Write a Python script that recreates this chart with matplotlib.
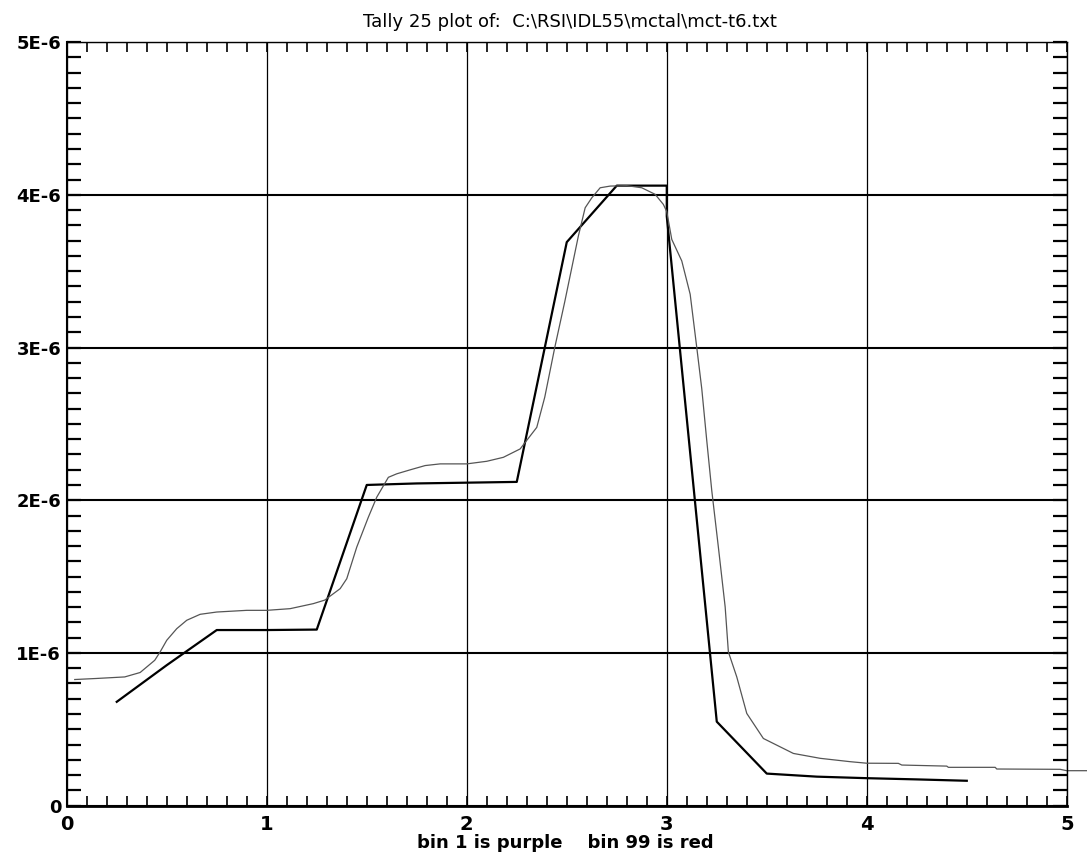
import matplotlib.pyplot as plt
from matplotlib.ticker import MultipleLocator, FixedLocator, FixedFormatter

# tally 25, bin 1 (heavy line)
x_bin1 = [0.25, 0.5, 0.75, 1.0, 1.25, 1.5, 1.75, 2.0, 2.25, 2.5, 2.75,
          3.0, 3.0, 3.25, 3.5, 3.75, 4.0, 4.25, 4.5]
y_bin1 = [0.68e-6, 0.92e-6, 1.15e-6, 1.15e-6, 1.153e-6, 2.10e-6, 2.11e-6,
          2.115e-6, 2.12e-6, 3.69e-6, 4.06e-6, 4.06e-6, 3.86e-6, 0.55e-6,
          0.21e-6, 0.19e-6, 0.18e-6, 0.172e-6, 0.163e-6]

# tally 25, bin 99 (light line)
x_bin99 = [0.04, 0.15, 0.29, 0.367, 0.44, 0.467, 0.5, 0.55, 0.6, 0.667,
           0.75, 0.9, 1.0, 1.117, 1.233, 1.29, 1.367, 1.4, 1.45, 1.508,
           1.55, 1.608, 1.65, 1.717, 1.792, 1.867, 2.0, 2.1, 2.183, 2.267,
           2.35, 2.39, 2.44, 2.49, 2.558, 2.592, 2.625, 2.667, 2.717, 2.8,
           2.875, 2.942, 2.983, 3.0, 3.025, 3.075, 3.117, 3.15, 3.175, 3.2,
           3.225, 3.258, 3.292, 3.308, 3.35, 3.4, 3.483, 3.633, 3.767, 3.917,
           4.0, 4.158, 4.175, 4.4, 4.408, 4.642, 4.65, 4.967, 5.0, 5.1]
y_bin99 = [0.826, 0.833, 0.843, 0.872, 0.952, 1.007, 1.083, 1.159, 1.214,
           1.253, 1.268, 1.279, 1.279, 1.29, 1.323, 1.346, 1.421, 1.486,
           1.693, 1.889, 2.02, 2.15, 2.173, 2.199, 2.227, 2.238, 2.238,
           2.255, 2.281, 2.336, 2.477, 2.675, 3.0, 3.3, 3.73, 3.915, 3.98,
           4.046, 4.057, 4.06, 4.046, 4.003, 3.937, 3.89, 3.708, 3.567,
           3.349, 3.0, 2.73, 2.39, 2.063, 1.693, 1.301, 1.007, 0.843, 0.604,
           0.44, 0.342, 0.31, 0.288, 0.278, 0.277, 0.266, 0.259, 0.251,
           0.251, 0.24, 0.238, 0.229, 0.229]
y_bin99 = [v * 1e-6 for v in y_bin99]

xticks = [0, 1, 2, 3, 4, 5]
xtick_labels = ['0', '1', '2', '3', '4', '5']
yticks = [0, 1e-6, 2e-6, 3e-6, 4e-6, 5e-6]
ytick_labels = ['0', '1E-6', '2E-6', '3E-6', '4E-6', '5E-6']

plt.rcParams['font.family'] = ['Liberation Sans Narrow', 'DejaVu Sans']

fig = plt.figure(figsize=(10.87, 8.57), dpi=100)
ax = fig.add_axes([0.0614, 0.0599, 0.92, 0.891])

ax.plot(x_bin1, y_bin1, color='black', lw=1.6)
ax.plot(x_bin99, y_bin99, color='#555555', lw=0.9, clip_on=False)

ax.set_xlim(0, 5)
ax.set_ylim(0, 5e-6)

ax.xaxis.set_major_locator(FixedLocator(xticks))
ax.xaxis.set_major_formatter(FixedFormatter(xtick_labels))
ax.yaxis.set_major_locator(FixedLocator(yticks))
ax.yaxis.set_major_formatter(FixedFormatter(ytick_labels))
ax.xaxis.set_minor_locator(MultipleLocator(0.1))
ax.yaxis.set_minor_locator(MultipleLocator(1e-7))

ax.xaxis.grid(True, which='major', color='black', lw=0.9)
ax.yaxis.grid(True, which='major', color='black', lw=1.5)

ax.tick_params(axis='x', which='both', direction='in', top=True,
               length=7, width=1.2, pad=7)
ax.tick_params(axis='y', which='both', direction='in', right=True,
               length=10, width=1.6, pad=4)
for lab in ax.get_xticklabels():
    lab.set_fontsize(14)
    lab.set_fontweight('bold')
for lab in ax.get_yticklabels():
    lab.set_fontsize(13)
    lab.set_fontweight('bold')

ax.spines['bottom'].set_linewidth(2)
ax.spines['left'].set_linewidth(1.5)
ax.spines['top'].set_linewidth(1)
ax.spines['right'].set_linewidth(1)

fig.text(0.524, 1 - 22 / 857, r'Tally 25 plot of:  C:\RSI\IDL55\mctal\mct-t6.txt',
         ha='center', va='center', fontsize=13)
fig.text(0.52, 1 - 843 / 857, 'bin 1 is purple    bin 99 is red',
         ha='center', va='center', fontsize=13, fontweight='bold')

fig.savefig('out.png', dpi=100, facecolor='white')
